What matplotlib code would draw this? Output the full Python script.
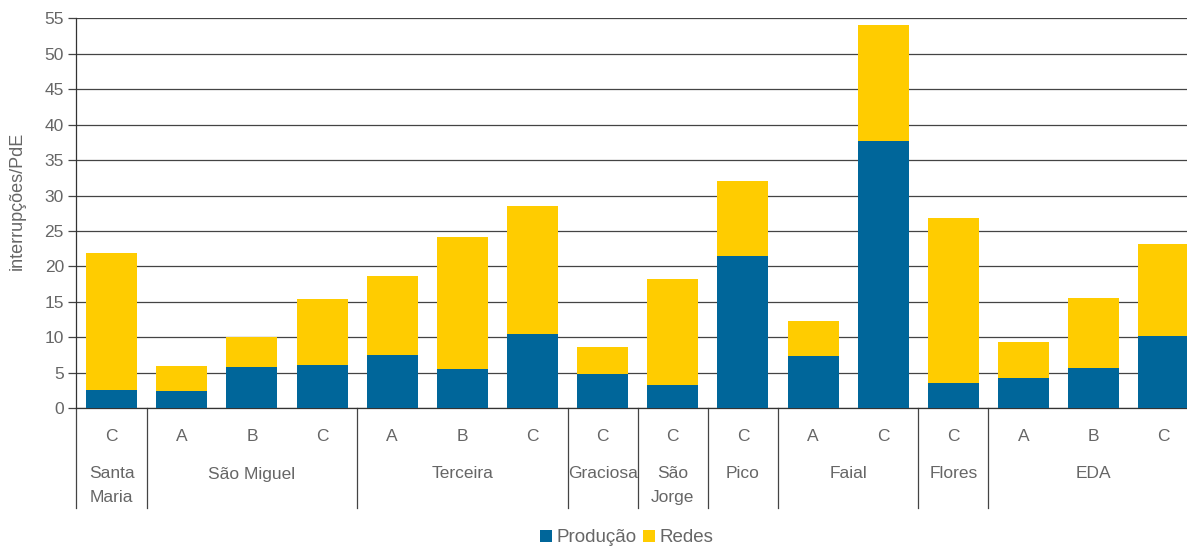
import matplotlib.pyplot as plt
import matplotlib.transforms as mtransforms

plt.rcParams['font.family'] = ['Liberation Sans', 'DejaVu Sans']

# Dados
letras = ['C', 'A', 'B', 'C', 'A', 'B', 'C', 'C', 'C', 'C', 'A', 'C', 'C', 'A', 'B', 'C']
grupos = ['Santa\nMaria', 'São Miguel', 'Terceira', 'Graciosa', 'São\nJorge',
          'Pico', 'Faial', 'Flores', 'EDA']
tamanho_grupos = [1, 3, 3, 1, 1, 1, 2, 1, 3]
producao = [2.6, 2.45, 5.85, 6.1, 7.5, 5.55, 10.5, 4.85, 3.3, 21.5, 7.4, 37.7, 3.6, 4.3, 5.7, 10.2]
total = [21.9, 6.0, 10.0, 15.4, 18.65, 24.15, 28.5, 8.65, 18.25, 32.05, 12.3, 54.05, 26.85, 9.35, 15.55, 23.15]
redes = [t - p for t, p in zip(total, producao)]

azul = '#00669A'
amarelo = '#FFCC00'
cinza = '#666666'

W, H = 1187, 547
fig = plt.figure(figsize=(W / 100, H / 100), dpi=100)
left = 76.5 / W
bottom = (H - 408.3) / H
ax = fig.add_axes([left, bottom, 16 * 70.15 / W, 390 / H])

x = list(range(len(letras)))
ax.bar(x, producao, width=0.727, color=azul, label='Produção', zorder=3)
ax.bar(x, redes, width=0.727, bottom=producao, color=amarelo, label='Redes', zorder=3)

ax.set_xlim(-0.5, 15.5)
ax.set_ylim(0, 55)
ax.set_yticks(range(0, 56, 5))
ax.yaxis.grid(True, color='#444444', linewidth=0.9, zorder=0)
ax.set_xticks([])
ax.tick_params(axis='y', colors='#444444', labelcolor=cinza, labelsize=12.5,
               length=6, width=0.9, pad=3)
for s in ['top', 'right']:
    ax.spines[s].set_visible(False)
for s in ['left', 'bottom']:
    ax.spines[s].set_color('#333333')
    ax.spines[s].set_linewidth(0.9)
ax.set_ylabel('interrupções/PdE', color=cinza, fontsize=13)
ax.yaxis.set_label_coords((26 - 76.5) / 1122.4, (408.3 - 201) / 390)

# rótulos das categorias por baixo do eixo
tr = mtransforms.blended_transform_factory(ax.transData, fig.transFigure)
for i, l in enumerate(letras):
    ax.text(i, (H - 436.5) / H, l, transform=tr, ha='center', va='center',
            color=cinza, fontsize=12.5)

inicio = 0
y_sep_top = bottom
y_sep_bot = (H - 508) / H
for nome, n in zip(grupos, tamanho_grupos):
    ax.plot([inicio - 0.5, inicio - 0.5], [y_sep_top, y_sep_bot], transform=tr,
            color='#444444', linewidth=0.9, clip_on=False)
    centro = inicio + (n - 1) / 2
    for k, linha in enumerate(nome.split('\n')):
        ax.text(centro, (H - 474 - 23.5 * k) / H, linha, transform=tr,
                ha='center', va='center', color=cinza, fontsize=12.5)
    inicio += n

fig.legend(loc='center', bbox_to_anchor=(626.5 / W, (H - 538) / H), ncol=2,
           frameon=False, fontsize=13.5, handlelength=0.64, handleheight=0.64,
           handletextpad=0.23, columnspacing=0.37, labelcolor=cinza)

fig.savefig('out.png', dpi=100)
